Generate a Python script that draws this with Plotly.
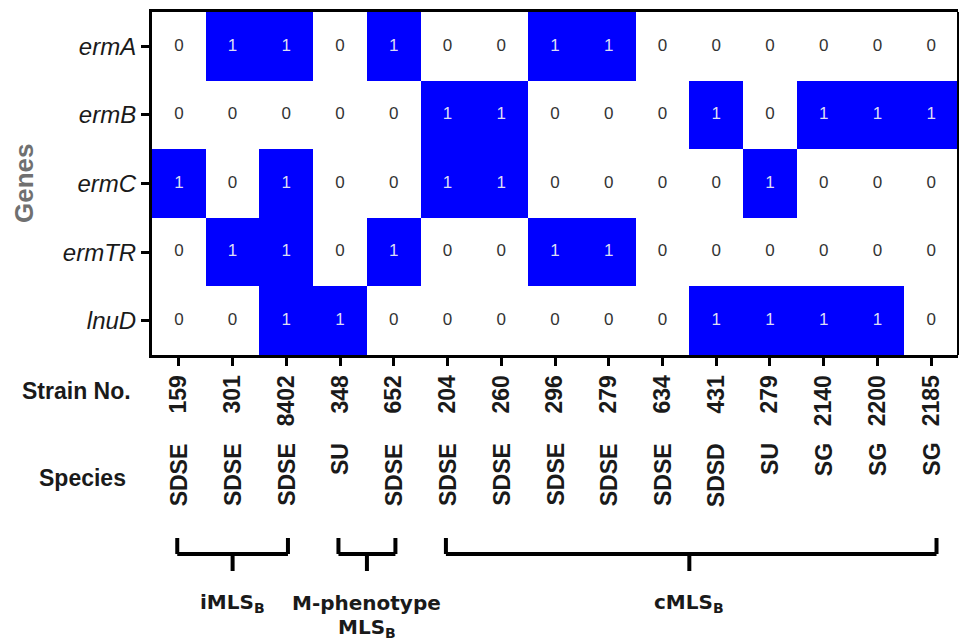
import plotly.graph_objects as go

# ---------------- data ----------------
genes = ["ermA", "ermB", "ermC", "ermTR", "lnuD"]
strains = ["159", "301", "8402", "348", "652", "204", "260", "296", "279",
           "634", "431", "279", "2140", "2200", "2185"]
species = ["SDSE", "SDSE", "SDSE", "SU", "SDSE", "SDSE", "SDSE", "SDSE", "SDSE",
           "SDSE", "SDSD", "SU", "SG", "SG", "SG"]
ermA = [0, 1, 1, 0, 1, 0, 0, 1, 1, 0, 0, 0, 0, 0, 0]
ermB = [0, 0, 0, 0, 0, 1, 1, 0, 0, 0, 1, 0, 1, 1, 1]
ermC = [1, 0, 1, 0, 0, 1, 1, 0, 0, 0, 0, 1, 0, 0, 0]
ermTR = [0, 1, 1, 0, 1, 0, 0, 1, 1, 0, 0, 0, 0, 0, 0]
lnuD = [0, 0, 1, 1, 0, 0, 0, 0, 0, 0, 1, 1, 1, 1, 0]
groups = [(["iMLS<sub>B</sub>"], 0, 2),
          (["M-phenotype", "MLS<sub>B</sub>"], 3, 4),
          (["cMLS<sub>B</sub>"], 5, 14)]

z = [ermA, ermB, ermC, ermTR, lnuD]
cols = list(range(len(strains)))
rows = list(range(len(genes)))

W, H = 961, 644
L, R, T, B = 152, 3, 12, 289
plot_h = H - T - B
plot_w = W - L - R


def py(px):  # pixel y -> paper y
    return (H - B - px) / plot_h


def pxx(px):  # pixel x -> paper x
    return (px - L) / plot_w


fig = go.Figure()
fig.add_trace(go.Heatmap(
    z=z, x=cols, y=rows, zmin=0, zmax=1,
    colorscale=[[0, "#ffffff"], [1, "#0000ff"]],
    showscale=False, hoverinfo="skip"))

tx, ty, tt, tc = [], [], [], []
for r in rows:
    for c in cols:
        v = z[r][c]
        tx.append(c)
        ty.append(r)
        tt.append(str(v))
        tc.append("#dcdcf5" if v == 1 else "#333333")
fig.add_trace(go.Scatter(
    x=tx, y=ty, text=tt, mode="text", hoverinfo="skip",
    textfont=dict(family="Liberation Sans, Arial", size=17, color=tc),
    showlegend=False))

FONT = "Liberation Sans, Arial"
GFONT = "DejaVu Sans, Liberation Sans, Arial"

fig.update_layout(
    width=W, height=H, autosize=False,
    margin=dict(l=L, r=R, t=T, b=B),
    paper_bgcolor="white", plot_bgcolor="white",
    showlegend=False,
    font=dict(family=FONT, color="#1a1a1a"),
    xaxis=dict(
        range=[-0.5, len(strains) - 0.5], automargin=False,
        tickmode="array", tickvals=cols,
        ticktext=["<b>%s</b>" % s for s in strains],
        tickangle=-90, tickfont=dict(family=FONT, size=23, color="#1a1a1a"),
        ticks="outside", ticklen=8, tickwidth=3, tickcolor="black",
        showline=True, linewidth=3, linecolor="black", mirror=True,
        showgrid=False, zeroline=False, fixedrange=True),
    yaxis=dict(
        range=[len(genes) - 0.5, -0.5], automargin=False,
        tickmode="array", tickvals=rows,
        ticktext=["<i>%s</i>" % g for g in genes],
        tickfont=dict(family=FONT, size=24, color="#1a1a1a"),
        ticks="outside", ticklen=8, tickwidth=3, tickcolor="black",
        showline=True, linewidth=3, linecolor="black",
        showgrid=False, zeroline=False, fixedrange=True),
)

# right border (thinner)
fig.add_shape(type="line", xref="paper", yref="paper", x0=1, x1=1, y0=0, y1=1,
              line=dict(color="black", width=2))

annotations = []
# species labels
for c, s in zip(cols, species):
    annotations.append(dict(
        x=c, xref="x", y=py(441), yref="paper", text="<b>%s</b>" % s,
        textangle=-90, showarrow=False, xanchor="center", yanchor="top",
        font=dict(family=FONT, size=23, color="#1a1a1a")))

annotations.append(dict(x=pxx(76), xref="paper", y=py(391), yref="paper",
                        text="<b>Strain No.</b>", showarrow=False,
                        xanchor="center", yanchor="middle",
                        font=dict(family=FONT, size=23, color="#1a1a1a")))
annotations.append(dict(x=pxx(82), xref="paper", y=py(478), yref="paper",
                        text="<b>Species</b>", showarrow=False,
                        xanchor="center", yanchor="middle",
                        font=dict(family=FONT, size=23, color="#1a1a1a")))
annotations.append(dict(x=pxx(24), xref="paper", y=py(183), yref="paper",
                        text="<b>Genes</b>", textangle=-90, showarrow=False,
                        xanchor="center", yanchor="middle",
                        font=dict(family=FONT, size=26, color="#707070")))

# group brackets
y_cap, y_bar, y_stem = py(538), py(554), py(571)
label_y = [603, 628]
for lines, a, b in groups:
    x0 = a - 0.03
    x1 = b + 0.1 if b == 14 else b + 0.03
    mid = (a + b) / 2
    line = dict(color="black", width=4)
    fig.add_shape(type="line", xref="x", yref="paper", x0=x0, x1=x1,
                  y0=y_bar, y1=y_bar, line=line)
    fig.add_shape(type="line", xref="x", yref="paper", x0=x0, x1=x0,
                  y0=y_cap, y1=y_bar, line=line)
    fig.add_shape(type="line", xref="x", yref="paper", x0=x1, x1=x1,
                  y0=y_cap, y1=y_bar, line=line)
    fig.add_shape(type="line", xref="x", yref="paper", x0=mid, x1=mid,
                  y0=y_bar, y1=y_stem, line=line)
    for i, txt in enumerate(lines):
        annotations.append(dict(
            x=mid, xref="x", y=py(label_y[i]), yref="paper",
            text="<b>%s</b>" % txt,
            showarrow=False, xanchor="center", yanchor="middle",
            font=dict(family=GFONT, size=20, color="#1a1a1a")))

fig.update_layout(annotations=annotations)

fig.write_html("out.html",
               config={"displayModeBar": False},
               post_script="document.body.style.margin='0px';"
                           "document.body.style.overflow='hidden';")
